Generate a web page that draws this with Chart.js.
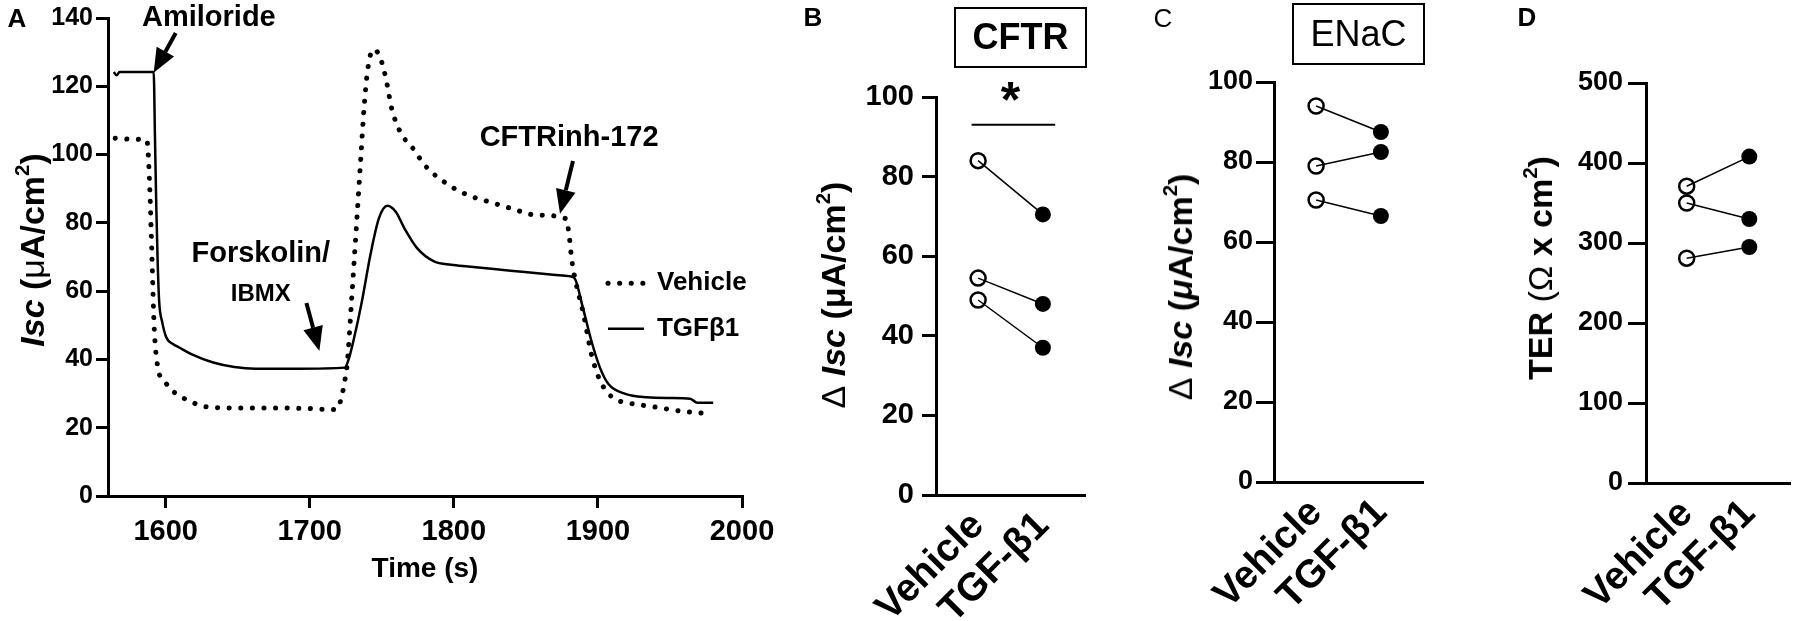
<!DOCTYPE html>
<html>
<head>
<meta charset="utf-8">
<script src="https://cdn.jsdelivr.net/npm/chart.js@4.4.1/dist/chart.umd.min.js"></script>
<style>
body { margin: 0; background: #fff; }
#wrap { position: relative; width: 1800px; height: 621px; overflow: hidden; font-family: 'Liberation Sans', Arial, Helvetica, sans-serif; color: #000; }
.panel { position: absolute; top: 0; }
.letter { position: absolute; font-weight: bold; font-size: 26px; line-height: 1; transform: translate(-50%, -50%); }
.ytitle { position: absolute; white-space: nowrap; font-weight: bold; font-size: 34px; line-height: 1; transform: translate(-50%, -50%) rotate(-90deg); }
.xtitle { position: absolute; white-space: nowrap; font-weight: bold; font-size: 28px; line-height: 1; transform: translate(-50%, -50%); }
.box { position: absolute; box-sizing: border-box; border: 2.5px solid #000; text-align: center; font-size: 36px; }
.n { font-weight: normal; }
sup { font-size: 0.6em; vertical-align: 0.75em; line-height: 0; }
</style>
</head>
<body>
<div id="wrap">
  <canvas id="chartA" class="panel" style="left:0" width="790" height="621"></canvas>
  <canvas id="chartB" class="panel" style="left:790px" width="310" height="621"></canvas>
  <canvas id="chartC" class="panel" style="left:1110px" width="330" height="621"></canvas>
  <canvas id="chartD" class="panel" style="left:1450px" width="350" height="621"></canvas>

  <div class="letter" style="left:17px; top:18px">A</div>
  <div class="letter" style="left:813px; top:17px">B</div>
  <div class="letter n" style="left:1163px; top:18px">C</div>
  <div class="letter" style="left:1527px; top:17px">D</div>

  <div class="box" style="left:954px; top:7px; width:133px; height:61px; line-height:56px; font-weight:bold">CFTR</div>
  <div class="box" style="left:1292px; top:3px; width:133px; height:62px; line-height:57px">ENaC</div>

  <div class="ytitle" style="left:32px; top:250px"><i>Isc</i> (<span class="n">μ</span>A/cm<sup>2</sup>)</div>
  <div class="ytitle" style="left:833px; top:295px"><span class="n">Δ</span> <i>Isc</i> (μA/cm<sup>2</sup>)</div>
  <div class="ytitle" style="left:1180px; top:287px"><span class="n">Δ</span> <i>Isc</i> (<i>μ</i>A/cm<sup>2</sup>)</div>
  <div class="ytitle" style="left:1540px; top:268px">TER <span class="n">(Ω</span> x cm<sup>2</sup>)</div>
  <div class="xtitle" style="left:425px; top:568px">Time (s)</div>
</div>

<script>
// 面板A：短路电流随时间变化
const timeTicks = [1600, 1700, 1800, 1900, 2000];
const vehicleTime = [1565, 1576, 1587, 1589, 1590.5, 1592, 1594.6, 1599, 1603.5, 1609.4, 1618.2, 1627, 1648, 1677, 1700, 1718, 1721.5, 1724, 1726, 1729, 1732, 1735, 1738, 1741, 1744.5, 1748.5, 1752.5, 1757, 1763, 1772, 1780, 1795, 1810, 1825, 1840, 1857, 1878, 1880, 1882, 1884, 1890, 1895.5, 1901.5, 1910, 1922, 1936, 1959, 1977];
const vehicleIsc = [104.8, 104.5, 104.1, 90, 70, 50, 37.6, 33.8, 31.3, 29.4, 27.5, 26.2, 25.8, 25.8, 25.6, 25.3, 28, 33, 38.6, 57, 76.4, 96, 115.3, 127, 130.8, 128.8, 123, 113.3, 106.5, 101.6, 96.8, 91.5, 88.1, 86.1, 84.2, 82.3, 81.2, 76.4, 68.7, 63.9, 53.2, 41.5, 33.8, 28.9, 27.2, 26.3, 24.8, 24.1];
const tgfTime = [1564, 1566, 1568, 1580, 1591.7, 1592.6, 1593.5, 1594.5, 1595.5, 1597.6, 1600.5, 1605, 1609.4, 1618.2, 1633, 1647.7, 1662.5, 1692, 1724.4, 1727, 1730.3, 1736.2, 1742.1, 1748, 1753.9, 1759.8, 1765.7, 1774.5, 1786.3, 1798.1, 1809.9, 1839.4, 1868.9, 1880, 1883.6, 1889.6, 1895.5, 1901.4, 1907.3, 1919, 1934, 1950, 1964, 1969, 1980];
const tgfIsc = [124.2, 123.2, 124.2, 124.2, 124.2, 105, 85, 68, 57, 51, 46.4, 44.5, 43.5, 41.5, 39.1, 37.8, 37.3, 37.3, 37.6, 40, 45.4, 57, 70.6, 81.3, 85, 83.2, 78.4, 72.6, 68.7, 67.7, 67.2, 66, 64.8, 64.4, 63.9, 55.1, 45.4, 37.6, 32.8, 29.9, 28.9, 28.7, 28.5, 27.3, 27.3];

// 面板B-D：配对数据 (Vehicle -> TGF-β1)
const groups = ['Vehicle', 'TGF-β1'];
const cftrVehicle = [84, 54.5, 49];
const cftrTgf = [70.5, 48, 37];
const enacVehicle = [94, 79, 70.5];
const enacTgf = [87.5, 82.5, 66.5];
const terVehicle = [371, 350, 281];
const terTgf = [408, 330, 295];

// 面板A的注释（数据坐标）
const notesA = [
    { text: 'Amiloride', t: 1630, v: 140, size: 29 },
    { text: 'Forskolin/', t: 1666, v: 71, size: 29 },
    { text: 'IBMX', t: 1666, v: 59, size: 24 },
    { text: 'CFTRinh-172', t: 1880, v: 105, size: 29 }
];
const arrowsA = [
    { t0: 1607, v0: 135.6, t1: 1591.7, v1: 124 },
    { t0: 1697.7, v0: 56.5, t1: 1706.7, v1: 42.5 },
    { t0: 1882.7, v0: 98.1, t1: 1873.7, v1: 82.7 }
];
const legendA = { t0: 1907, t1: 1932, tText: 1941, rows: [
    { label: 'Vehicle', v: 62.3, dotted: true },
    { label: 'TGFβ1', v: 49, dotted: false }
] };
const sigB = { x0: -0.1, x1: 1.19, y: 93, starX: 0.5, starY: 95 };

const FONT = "'Liberation Sans', Arial, Helvetica, sans-serif";
Chart.defaults.font.family = FONT;
Chart.defaults.color = '#000';
Chart.defaults.animation = false;
Chart.defaults.plugins.legend.display = false;
Chart.defaults.plugins.tooltip.enabled = false;

const DOTS = [0.1, 11.5];

function yAxis(max, step, width, size, tickLen, pad) {
    return {
        min: 0, max: max,
        ticks: { stepSize: step, padding: pad, font: { size: size, weight: 'bold' }, callback: v => String(v) },
        grid: { drawOnChartArea: false, drawTicks: true, tickLength: tickLen, lineWidth: 3, color: '#000' },
        border: { display: true, color: '#000', width: 3 },
        afterFit: s => { s.width = width; }
    };
}

function drawArrow(ctx, x0, y0, x1, y1) {
    const ang = Math.atan2(y1 - y0, x1 - x0);
    const len = 24, half = 10;
    const bx = x1 - len * Math.cos(ang), by = y1 - len * Math.sin(ang);
    ctx.lineWidth = 4;
    ctx.beginPath();
    ctx.moveTo(x0, y0);
    ctx.lineTo(bx, by);
    ctx.stroke();
    ctx.beginPath();
    ctx.moveTo(x1, y1);
    ctx.lineTo(bx + half * Math.sin(ang), by - half * Math.cos(ang));
    ctx.lineTo(bx - half * Math.sin(ang), by + half * Math.cos(ang));
    ctx.closePath();
    ctx.fill();
}

const notesPlugin = {
    id: 'notesA',
    afterDatasetsDraw(chart) {
        const { ctx, scales: { x, y } } = chart;
        ctx.save();
        ctx.fillStyle = '#000';
        ctx.strokeStyle = '#000';
        ctx.textAlign = 'center';
        ctx.textBaseline = 'middle';
        notesA.forEach(n => {
            ctx.font = `bold ${n.size}px ${FONT}`;
            ctx.fillText(n.text, x.getPixelForValue(n.t), y.getPixelForValue(n.v));
        });
        arrowsA.forEach(a => drawArrow(ctx, x.getPixelForValue(a.t0), y.getPixelForValue(a.v0), x.getPixelForValue(a.t1), y.getPixelForValue(a.v1)));
        // 图例
        ctx.textAlign = 'left';
        ctx.font = `bold 26px ${FONT}`;
        legendA.rows.forEach(r => {
            const py = y.getPixelForValue(r.v);
            ctx.beginPath();
            if (r.dotted) {
                ctx.setLineDash(DOTS);
                ctx.lineCap = 'round';
                ctx.lineWidth = 5;
            } else {
                ctx.setLineDash([]);
                ctx.lineCap = 'butt';
                ctx.lineWidth = 2.5;
            }
            ctx.moveTo(x.getPixelForValue(legendA.t0), py);
            ctx.lineTo(x.getPixelForValue(legendA.t1), py);
            ctx.stroke();
            ctx.setLineDash([]);
            ctx.fillText(r.label, x.getPixelForValue(legendA.tText), py);
        });
        ctx.restore();
    }
};

new Chart(document.getElementById('chartA'), {
    type: 'line',
    data: {
        datasets: [
            { data: vehicleTime.map((t, i) => ({ x: t, y: vehicleIsc[i] })), borderColor: '#000', borderWidth: 5, borderDash: DOTS, borderCapStyle: 'round', pointRadius: 0, cubicInterpolationMode: 'monotone' },
            { data: tgfTime.map((t, i) => ({ x: t, y: tgfIsc[i] })), borderColor: '#000', borderWidth: 2.5, pointRadius: 0, cubicInterpolationMode: 'monotone' }
        ]
    },
    options: {
        responsive: false,
        devicePixelRatio: 1,
        layout: { padding: { left: 0, right: 48, top: 15, bottom: 0 } },
        scales: {
            x: {
                type: 'linear', min: 1560, max: 2000,
                afterBuildTicks: s => { s.ticks = timeTicks.map(v => ({ value: v })); },
                ticks: { padding: 7, maxRotation: 0, autoSkip: false, font: { size: 29, weight: 'bold' }, callback: v => String(v) },
                grid: { drawOnChartArea: false, drawTicks: true, tickLength: 12, lineWidth: 3, color: '#000' },
                border: { display: true, color: '#000', width: 3 },
                afterFit: s => { s.height = 125; }
            },
            y: yAxis(140, 20, 108, 25, 12, 3)
        }
    },
    plugins: [notesPlugin]
});

// 配对图：空心 = Vehicle，实心 = TGF-β1
function pairedChart(id, vehicle, tgf, yMax, yStep, lay, extra) {
    const datasets = vehicle.map((v, i) => ({
        data: [{ x: 0, y: v }, { x: 1, y: tgf[i] }],
        borderColor: '#000',
        borderWidth: 1.5,
        pointRadius: [7.5, 8],
        pointBorderWidth: [2.5, 0],
        pointBackgroundColor: ['rgba(0,0,0,0)', '#000'],
        pointBorderColor: '#000',
        pointHoverRadius: 0
    }));
    if (extra) datasets.push(extra.dataset);
    return new Chart(document.getElementById(id), {
        type: 'line',
        data: { datasets: datasets },
        options: {
            responsive: false,
            devicePixelRatio: 1,
            layout: { padding: { left: 0, right: lay.right, top: lay.top, bottom: 0 } },
            scales: {
                x: {
                    type: 'linear', min: -0.65, max: 1.65,
                    afterBuildTicks: s => { s.ticks = [0, 1].map(v => ({ value: v })); },
                    ticks: { padding: lay.labelPad, minRotation: 45, maxRotation: 45, autoSkip: false, font: { size: 39, weight: 'bold' }, callback: v => groups[v] },
                    grid: { display: false, drawTicks: false },
                    border: { display: true, color: '#000', width: 3 },
                    afterFit: s => { s.height = lay.xHeight; }
                },
                y: yAxis(yMax, yStep, lay.yWidth, lay.size, lay.tickLen, lay.pad)
            }
        },
        plugins: extra ? [extra.plugin] : []
    });
}

const starPlugin = {
    id: 'star',
    afterDatasetsDraw(chart) {
        const { ctx, scales: { x, y } } = chart;
        ctx.save();
        ctx.fillStyle = '#000';
        ctx.textAlign = 'center';
        ctx.textBaseline = 'alphabetic';
        ctx.font = `bold 50px ${FONT}`;
        ctx.fillText('*', x.getPixelForValue(sigB.starX), y.getPixelForValue(sigB.starY));
        ctx.restore();
    }
};

pairedChart('chartB', cftrVehicle, cftrTgf, 100, 20,
    { yWidth: 146, xHeight: 126, top: 97, right: 15, size: 29, tickLen: 14, pad: 8, labelPad: 8 },
    {
        dataset: { data: [{ x: sigB.x0, y: sigB.y }, { x: sigB.x1, y: sigB.y }], borderColor: '#000', borderWidth: 2, pointRadius: 0 },
        plugin: starPlugin
    });
pairedChart('chartC', enacVehicle, enacTgf, 100, 20,
    { yWidth: 164, xHeight: 139, top: 82, right: 17, size: 27, tickLen: 18, pad: 3, labelPad: 8 });
pairedChart('chartD', terVehicle, terTgf, 500, 100,
    { yWidth: 196, xHeight: 138, top: 83, right: 5, size: 27, tickLen: 18, pad: 5, labelPad: 8 });
</script>
</body>
</html>
